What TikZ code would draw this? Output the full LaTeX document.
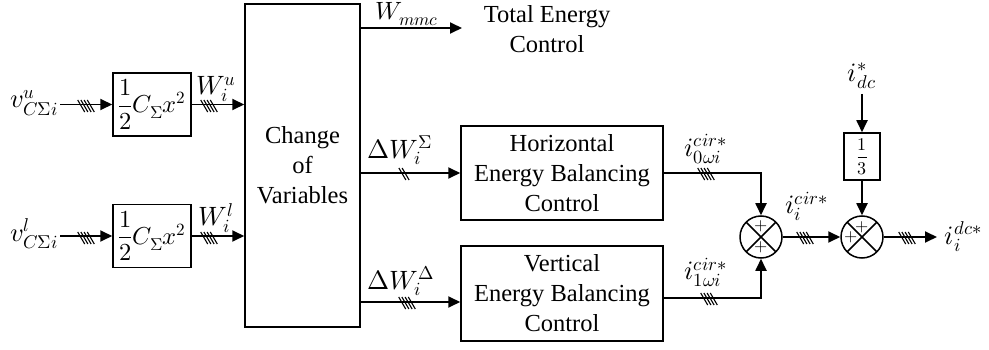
\documentclass[tikz,border=0pt]{standalone}
\usepackage{unicode-math}
\setmainfont{Liberation Serif}
\newfontfamily\tnr{Liberation Serif}
\setmathfont{Latin Modern Math}
\usetikzlibrary{arrows.meta,calc}
\begin{document}
\begin{tikzpicture}[x=1pt,y=-1pt,
  font=\tnr\fontsize{24.5}{30}\selectfont,
  line width=1.8pt,
  arr/.style={-{Triangle[length=12pt,width=11pt]}},
  blk/.style={draw, line width=1.5pt, inner sep=0pt, align=center},
  mth/.style={font=\fontsize{26.5}{30}\selectfont},
  lbl/.style={inner sep=0pt, anchor=south, mth},
  sumnode/.style={circle, draw, line width=1.5pt, minimum size=42pt, inner sep=0pt,
    path picture={\draw[line width=1.5pt] (path picture bounding box.north west) -- (path picture bounding box.south east)
      (path picture bounding box.north east) -- (path picture bounding box.south west);}},
  plus/.style={inner sep=0pt, font=\fontsize{17}{17}\selectfont},
  bus4/.pic={\foreach \k in {-1.5,-0.5,0.5,1.5} \draw[line width=1.1pt] (\k*3.2-3.5,-6) -- (\k*3.2+3.5,6);},
  bus2/.pic={\foreach \k in {-0.5,0.5} \draw[line width=1.1pt] (\k*3.2-3.5,-6) -- (\k*3.2+3.5,6);}
]
\useasboundingbox (0,0) rectangle (989,350);

% nodes
\node[anchor=east, inner sep=1pt, mth] (vu) at (60,103) {$v^{u}_{C\Sigma i}$};
\node[anchor=east, inner sep=1pt, mth] (vl) at (60,234) {$v^{l}_{C\Sigma i}$};
\node[blk, minimum width=78pt, minimum height=63pt] (b1) at (152,104.5) {$\displaystyle\frac{1}{2}C_{\Sigma}x^{2}$};
\node[blk, minimum width=78pt, minimum height=63pt] (b2) at (152,236) {$\displaystyle\frac{1}{2}C_{\Sigma}x^{2}$};
\node[blk, minimum width=115pt, minimum height=323pt] (cov) at (302.5,165.5) {Change\\of\\Variables};
\node[blk, minimum width=202pt, minimum height=94pt] (heb) at (562,173) {Horizontal\\Energy Balancing\\Control};
\node[blk, minimum width=202pt, minimum height=95pt] (veb) at (562,293.5) {Vertical\\Energy Balancing\\Control};
\node[align=center, inner sep=0pt] (tec) at (547,29) {Total Energy\\Control};
\node[sumnode] (s1) at (761,237) {};
\node[sumnode] (s2) at (862,237) {};
\node[blk, minimum width=36pt, minimum height=47pt, font=\fontsize{18}{18}\selectfont] (k3) at (862,156.5) {$\displaystyle\frac{1}{3}$};
\node[inner sep=0pt, outer sep=5pt, mth] (idc) at (862,76) {$i^{*}_{dc}$};
\coordinate (wend) at (462,28);
\coordinate (out) at (937,237);
\node[anchor=west, inner sep=7pt, mth] (idcout) at (out) {$i_i^{dc*}$};

% plus signs
\node[plus] (p1) at ([yshift=11pt]s1.center) {$+$};
\node[plus] (p2) at ([yshift=-10pt]s1.center) {$+$};
\node[plus] (p3) at ([yshift=10pt]s2.center) {$+$};
\node[plus] (p4) at ([xshift=-11pt]s2.center) {$+$};

% connectors
\draw[arr] (b1.west -| vu.east) -- (b1.west);
\draw[arr] (b2.west -| vl.east) -- (b2.west);
\draw[arr] (b1.east) -- (b1.east -| cov.west);
\draw[arr] (b2.east) -- (b2.east -| cov.west);
\draw[arr] (cov.east |- wend) -- (wend);
\draw[arr] (cov.east |- heb.west) -- (heb.west);
\draw[arr] (cov.east |- 0,302) -- (veb.west |- 0,302);
\draw[arr] (heb.east) -| (s1.north);
\draw[arr] (veb.east |- 0,298) -| (s1.south);
\draw[arr] (s1) -- (s2);
\draw[arr] (s2) -- (out);
\draw[arr] (idc) -- (k3);
\draw[arr] (k3) -- (s2);

% labels
\node[lbl] (lwu) at (216,103) {$W_i^{u}$};
\node[lbl] (lwl) at (216,234) {$W_i^{l}$};
\node[lbl, font=\fontsize{25}{30}\selectfont] (lwm) at (407,26.5) {$W_{mmc}$};
\node[lbl] (lds) at (400,166) {$\Delta W_i^{\Sigma}$};
\node[lbl] (ldd) at (401,297) {$\Delta W_i^{\Delta}$};
\node[lbl] (li0) at (706,165) {$i^{cir*}_{0\omega i}$};
\node[lbl] (li1) at (706,288) {$i^{cir*}_{1\omega i}$};
\node[lbl] (lic) at (807,222) {$i_i^{cir*}$};

% bus marks
\pic at (86,106) {bus4};
\pic at (86,238) {bus4};
\pic at (209,106) {bus4};
\pic at (209,238) {bus4};
\pic at (404,174) {bus2};
\pic at (407,303) {bus4};
\pic at (706,174) {bus4};
\pic at (709,299) {bus4};
\pic at (805,238) {bus4};
\pic at (907,238) {bus4};
\end{tikzpicture}
\end{document}
